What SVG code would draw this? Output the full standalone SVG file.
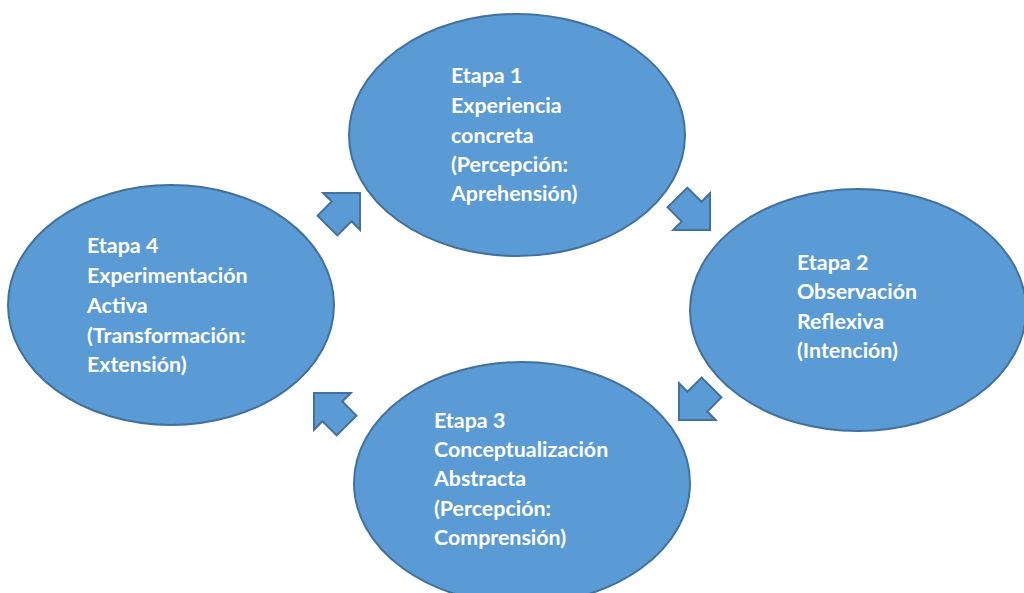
<svg xmlns="http://www.w3.org/2000/svg" width="1024" height="593" viewBox="0 0 1024 593">
<defs>
<style>
.node{fill:#5B9BD5;stroke:#41719C;stroke-width:2}
.arr{fill:#5B9BD5;stroke:#41719C;stroke-width:2;stroke-linejoin:miter}
.t{fill:#fff;font-family:"Lato","Liberation Sans",sans-serif;font-weight:bold;font-size:21.4px}
</style>
<path id="ba" d="M0,0 L-26,-26 L-26,-14 L-46,-14 L-46,14 L-26,14 L-26,26 Z"/>
</defs>
<rect width="1024" height="593" fill="#fff"/>
<g id="connectors">
<use href="#ba" class="arr" transform="translate(360,193) rotate(-45)"/>
<use href="#ba" class="arr" transform="translate(710,230) rotate(45)"/>
<use href="#ba" class="arr" transform="translate(679,420) rotate(135)"/>
<use href="#ba" class="arr" transform="translate(314,393) rotate(-135)"/>
</g>
<g id="node1">
<ellipse class="node" cx="517" cy="135" rx="168" ry="121"/>
<text class="t"><tspan x="451" y="83">Etapa 1</tspan><tspan x="451" y="113">Experiencia</tspan><tspan x="451" y="143">concreta</tspan><tspan x="451" y="172">(Percepción:</tspan><tspan x="451" y="201">Aprehensión)</tspan></text>
</g>
<g id="node2">
<ellipse class="node" cx="858" cy="310" rx="168" ry="121"/>
<text class="t"><tspan x="797" y="270">Etapa 2</tspan><tspan x="797" y="299">Observación</tspan><tspan x="797" y="329">Reflexiva</tspan><tspan x="797" y="358">(Intención)</tspan></text>
</g>
<g id="node3">
<ellipse class="node" cx="522" cy="483" rx="168" ry="121"/>
<text class="t"><tspan x="434" y="428">Etapa 3</tspan><tspan x="434" y="457">Conceptualización</tspan><tspan x="434" y="486">Abstracta</tspan><tspan x="434" y="516">(Percepción:</tspan><tspan x="434" y="545">Comprensión)</tspan></text>
</g>
<g id="node4">
<ellipse class="node" cx="171" cy="305" rx="163" ry="120"/>
<text class="t"><tspan x="87" y="253">Etapa 4</tspan><tspan x="87" y="283">Experimentación</tspan><tspan x="87" y="313">Activa</tspan><tspan x="87" y="343">(Transformación:</tspan><tspan x="87" y="372">Extensión)</tspan></text>
</g>
</svg>
